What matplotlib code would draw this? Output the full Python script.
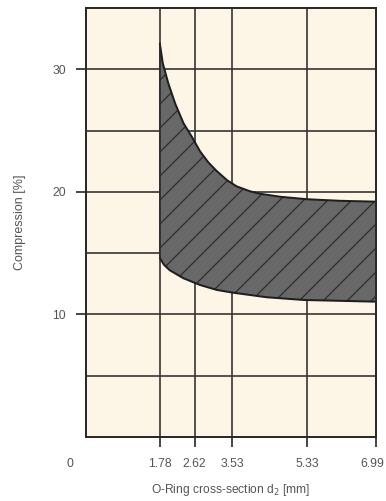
import matplotlib
matplotlib.use("Agg")
import matplotlib.pyplot as plt
from matplotlib.transforms import ScaledTranslation

# Recommended compression band for O-rings by cross-section
upper_d = [1.78, 1.85, 1.98, 2.15, 2.35, 2.55, 2.75, 2.95, 3.15, 3.40, 3.63,
           3.95, 4.19, 4.68, 5.32, 6.12, 6.99]
upper_pct = [32.1, 30.5, 28.9, 27.2, 25.6, 24.5, 23.3, 22.4, 21.7, 20.95, 20.45,
             20.05, 19.85, 19.6, 19.4, 19.27, 19.2]
lower_d = [1.78, 1.88, 2.02, 2.35, 2.75, 3.15, 3.55, 4.36, 5.24, 6.99]
lower_pct = [14.6, 14.05, 13.6, 12.95, 12.4, 12.0, 11.77, 11.4, 11.18, 11.04]

x_ticks = [1.78, 2.62, 3.53, 5.33, 6.99]
x_tick_labels = ["1.78", "2.62", "3.53", "5.33", "6.99"]
y_ticks = [10, 20, 30]
y_grid = [5, 10, 15, 20, 25, 30]

DPI = 72
plt.rcParams["font.family"] = ["Liberation Sans", "DejaVu Sans"]
plt.rcParams["hatch.linewidth"] = 1.3

fig = plt.figure(figsize=(386 / DPI, 501 / DPI), dpi=DPI, facecolor="white")
ax = fig.add_axes([86 / 386, 1 - 437 / 501, 290 / 386, 429 / 501])
ax.set_facecolor("#fdf6e7")
ax.set_xlim(0, 6.99)
ax.set_ylim(0, 35)

grid_kw = dict(color="#383838", lw=1.7, zorder=1)
for y in y_grid:
    ax.axhline(y, **grid_kw)
for x in x_ticks[:-1]:
    ax.axvline(x, **grid_kw)

# Shaded band between the two limit curves
poly_x = list(upper_d) + list(reversed(lower_d))
poly_y = list(upper_pct) + list(reversed(lower_pct))
ax.fill(poly_x, poly_y, facecolor="#686868", edgecolor="#2e2e2e",
        hatch="/", linewidth=0, zorder=2)
ax.plot(upper_d, upper_pct, color="#1e1e1e", lw=2.0, zorder=3,
        solid_capstyle="round", solid_joinstyle="round")
ax.plot(lower_d, lower_pct, color="#1e1e1e", lw=2.0, zorder=3,
        solid_capstyle="round", solid_joinstyle="round")
ax.plot([upper_d[0], lower_d[0]], [upper_pct[0], lower_pct[0]],
        color="#2a2a2a", lw=1.7, zorder=3)

for s in ax.spines.values():
    s.set_color("#2a2a2a")
    s.set_linewidth(2.0)
    s.set_zorder(4)

ax.set_xticks(x_ticks)
ax.set_xticklabels(x_tick_labels)
ax.set_yticks(y_ticks)
ax.set_yticklabels([str(v) for v in y_ticks])
ax.tick_params(axis="both", direction="out", length=10, width=1.7,
               color="#2a2a2a", labelcolor="#555555", labelsize=12.3)
ax.tick_params(axis="x", pad=11)
ax.tick_params(axis="y", pad=10)

# keep the last x label inside the figure edge
last = ax.get_xticklabels()[-1]
last.set_transform(last.get_transform() +
                   ScaledTranslation(-4 / 72, 0, fig.dpi_scale_trans))

ax.annotate("0", xy=(0, 0), xytext=(-16, -27), textcoords="offset points",
            ha="center", va="center", color="#555555", fontsize=12.3,
            annotation_clip=False)

ax.set_xlabel("O-Ring cross-section d$_2$ [mm]", color="#555555",
              fontsize=12, labelpad=12)
ax.set_ylabel("Compression [%]", color="#555555", fontsize=12.5, labelpad=26)

fig.savefig("out.png", dpi=DPI, facecolor="white")
